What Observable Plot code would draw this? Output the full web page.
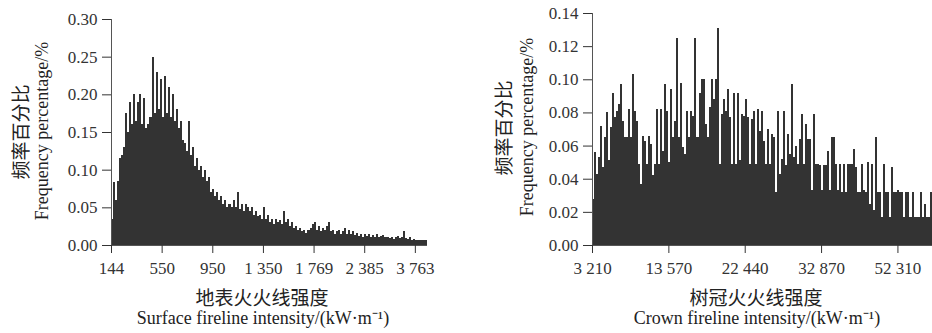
<!DOCTYPE html>
<html><head><meta charset="utf-8">
<script src="https://cdn.jsdelivr.net/npm/d3@7"></script>
<script src="https://cdn.jsdelivr.net/npm/@observablehq/plot@0.6"></script>
<style>
body{margin:0;background:#fff;}
#wrap{position:relative;width:932px;height:333px;overflow:hidden;background:#fff;}
.panel{position:absolute;top:0;}
.lbl{position:absolute;white-space:nowrap;color:#222;transform:translate(-50%,-50%);line-height:1;}
.cn{font-family:"Noto Sans CJK SC";font-size:19px;}
.en{font-family:"Liberation Serif";font-size:18px;}
.rot{transform:translate(-50%,-50%) rotate(-90deg);}
</style></head><body><div id="wrap"></div>
<script>
// Surface fireline intensity: frequency percentage per bin (%)
const surfaceValues = [
0.035,0.083,0.06,0.085,0.115,0.12,0.13,0.175,0.15,0.19,
0.16,0.2,0.165,0.19,0.2,0.16,0.195,0.155,0.16,0.17,
0.25,0.175,0.23,0.18,0.22,0.17,0.225,0.175,0.21,0.17,
0.2,0.165,0.18,0.155,0.165,0.14,0.135,0.125,0.165,0.12,
0.13,0.105,0.115,0.1,0.105,0.09,0.1,0.085,0.09,0.07,
0.075,0.065,0.07,0.06,0.065,0.055,0.06,0.05,0.055,0.05,
0.06,0.05,0.07,0.048,0.055,0.045,0.055,0.05,0.045,0.05,
0.04,0.045,0.038,0.04,0.035,0.05,0.035,0.04,0.03,0.035,
0.028,0.035,0.03,0.033,0.028,0.045,0.03,0.035,0.025,0.03,
0.022,0.025,0.02,0.022,0.018,0.02,0.016,0.02,0.022,0.028,
0.03,0.02,0.025,0.018,0.022,0.02,0.025,0.03,0.018,0.02,
0.015,0.018,0.02,0.015,0.018,0.022,0.015,0.02,0.014,0.018,
0.013,0.016,0.012,0.015,0.011,0.014,0.012,0.015,0.01,0.013,
0.011,0.014,0.01,0.012,0.013,0.01,0.011,0.009,0.011,0.008,
0.01,0.012,0.009,0.011,0.018,0.009,0.008,0.01,0.007,0.008,
0.007,0.007,0.007,0.006,0.007,0.006];
const surfaceTickBins = [0,25,50,75,100,125,150];
const surfaceTickLabels = ["144","550","950","1 350","1 769","2 385","3 763"];

// Crown fireline intensity: frequency percentage per bin (%)
const crownValues = [
0.028,0.056,0.043,0.053,0.072,0.047,0.065,0.08,0.051,0.071,
0.092,0.077,0.081,0.085,0.097,0.075,0.065,0.065,0.082,0.065,
0.103,0.081,0.075,0.049,0.037,0.066,0.063,0.049,0.066,0.061,
0.042,0.049,0.082,0.049,0.082,0.057,0.097,0.081,0.05,0.094,
0.065,0.075,0.125,0.065,0.098,0.059,0.055,0.081,0.065,0.081,
0.078,0.125,0.065,0.092,0.1,0.1,0.073,0.065,0.083,0.1,
0.088,0.1,0.131,0.049,0.079,0.088,0.081,0.094,0.077,0.049,
0.092,0.049,0.092,0.051,0.079,0.078,0.088,0.077,0.049,0.076,
0.081,0.049,0.082,0.069,0.081,0.063,0.049,0.07,0.049,0.067,
0.065,0.032,0.081,0.043,0.052,0.081,0.048,0.067,0.055,0.097,
0.053,0.06,0.049,0.064,0.079,0.049,0.073,0.064,0.064,0.033,
0.079,0.049,0.049,0.048,0.033,0.048,0.048,0.057,0.033,0.065,
0.065,0.049,0.033,0.049,0.032,0.049,0.032,0.049,0.049,0.049,
0.058,0.047,0.032,0.032,0.049,0.033,0.032,0.05,0.025,0.049,
0.021,0.065,0.032,0.032,0.017,0.049,0.032,0.032,0.017,0.047,
0.032,0.032,0.033,0.032,0.032,0.017,0.032,0.032,0.017,0.032,
0.017,0.017,0.017,0.032,0.017,0.025,0.017,0.017,0.032,0.017];
const crownTickBins = [0,38,76,114,152];
const crownTickLabels = ["3 210","13 570","22 440","32 870","52 310"];

const yLabelCN = "频率百分比";
const yLabelEN = "Frequency percentage/%";
const surfaceXLabelCN = "地表火火线强度";
const surfaceXLabelEN = "Surface fireline intensity/(kW·m⁻¹)";
const crownXLabelCN = "树冠火火线强度";
const crownXLabelEN = "Crown fireline intensity/(kW·m⁻¹)";

function panel({values, tickBins, tickLabels, yMax, yStep, width, marginLeft, marginTop, marginRight, xMax}) {
  const data = values.map((v, i) => ({i, v}));
  const yTicks = d3.range(0, yMax + yStep / 2, yStep);
  return Plot.plot({
    width, height: 333, marginLeft, marginTop, marginRight, marginBottom: 88,
    style: {fontFamily: "Liberation Serif", fontSize: "17px", color: "#333", background: "transparent", overflow: "visible"},
    x: {domain: [0, xMax], label: null},
    y: {domain: [0, yMax], label: null},
    marks: [
      Plot.rect(data, {x1: "i", x2: d => d.i + 1, y1: 0, y2: "v", fill: "#333", shapeRendering: "crispEdges"}),
      Plot.ruleX([0], {stroke: "#555"}),
      Plot.ruleY([0], {stroke: "#555"}),
      Plot.axisY({ticks: yTicks, tickFormat: d3.format(".2f"), tickSize: 9, tickPadding: 5, fontSize: 17, label: null}),
      Plot.axisX({ticks: tickBins, tickFormat: d => tickLabels[tickBins.indexOf(d)], tickSize: 8, tickPadding: 8, fontSize: 17, label: null})
    ]
  });
}

const wrap = document.getElementById("wrap");
function place(el, left) { const d = document.createElement("div"); d.className = "panel"; d.style.left = left + "px"; d.appendChild(el); wrap.appendChild(d); }
function label(text, cls, x, y) { const d = document.createElement("div"); d.className = "lbl " + cls; d.textContent = text; d.style.left = x + "px"; d.style.top = y + "px"; wrap.appendChild(d); }

place(panel({values: surfaceValues, tickBins: surfaceTickBins, tickLabels: surfaceTickLabels, yMax: 0.30, yStep: 0.05,
  width: 440, marginLeft: 111, marginTop: 19, marginRight: 13, xMax: 156}), 0);
place(panel({values: crownValues, tickBins: crownTickBins, tickLabels: crownTickLabels, yMax: 0.14, yStep: 0.02,
  width: 472, marginLeft: 132, marginTop: 13, marginRight: 0, xMax: 169.2}), 460);

label(surfaceXLabelCN, "cn", 262, 296);
label(surfaceXLabelEN, "en", 263, 318);
label(yLabelCN, "cn rot", 19, 132);
label(yLabelEN, "en rot", 42, 131);
label(crownXLabelCN, "cn", 756, 296);
label(crownXLabelEN, "en", 757, 318);
label(yLabelCN, "cn rot", 502, 128);
label(yLabelEN, "en rot", 527, 127);
</script></body></html>
